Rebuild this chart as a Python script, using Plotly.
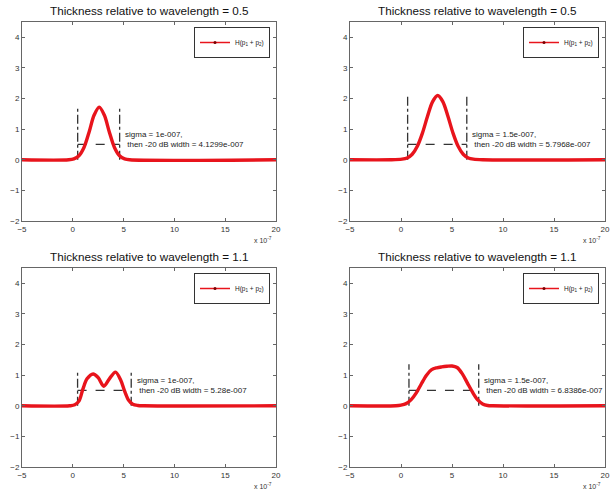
import plotly.graph_objects as go

# ---------------- data (x in units of 1e-7) ----------------
titles = ["Thickness relative to wavelength = 0.5", "Thickness relative to wavelength = 0.5",
          "Thickness relative to wavelength = 1.1", "Thickness relative to wavelength = 1.1"]

x_tl = [-5, -0.4, 0.1, 0.6, 1.1, 1.6, 2.1, 2.6, 3.1, 3.6, 4.1, 4.6, 5.1, 5.6, 20]
y_tl = [0, 0, 0.03, 0.13, 0.40, 0.90, 1.46, 1.72, 1.46, 0.90, 0.40, 0.13, 0.03, 0, 0]

x_tr = [-5, -1.0, 0.1, 0.6, 1.1, 1.6, 2.1, 2.6, 3.1, 3.6, 4.1, 4.6, 5.1, 5.6, 6.1, 6.6, 7.1, 8.0, 20]
y_tr = [0, 0, 0.02, 0.06, 0.18, 0.44, 0.87, 1.42, 1.90, 2.10, 1.90, 1.42, 0.87, 0.44, 0.18, 0.06, 0.02, 0, 0]

x_bl = [-5, -0.3, 0.2, 0.6, 1.0, 1.4, 2.0, 2.5, 3.05, 3.6, 4.2, 4.7, 5.1, 5.5, 5.9, 6.4, 7.0, 20]
y_bl = [0, 0, 0.03, 0.15, 0.55, 0.88, 1.04, 0.92, 0.64, 0.88, 1.10, 0.85, 0.48, 0.18, 0.05, 0.01, 0, 0]

x_br = [-5, -0.5, 0.0, 0.5, 1.0, 1.5, 2.0, 2.5, 3.0, 3.5, 4.0, 4.5, 5.0, 5.5, 6.0, 6.5, 7.0, 7.5, 8.0, 8.5, 9.0, 20]
y_br = [0, 0, 0.02, 0.07, 0.20, 0.42, 0.72, 1.00, 1.18, 1.24, 1.27, 1.29, 1.30, 1.25, 1.05, 0.75, 0.45, 0.20, 0.06, 0.01, 0, 0]

curves_x = [x_tl, x_tr, x_bl, x_br]
curves_y = [y_tl, y_tr, y_bl, y_br]

# -20 dB width markers
left_edge = [0.48, 0.65, 0.47, 0.78]
right_edge = [4.61, 6.45, 5.75, 7.62]
marker_height = [1.72, 2.10, 1.12, 1.36]
half_level = [0.5, 0.5, 0.5, 0.5]

sigma_txt = ["1e-007", "1.5e-007", "1e-007", "1.5e-007"]
width_txt = ["4.1299e-007", "5.7968e-007", "5.28e-007", "6.8386e-007"]

x_ticks = [-5, 0, 5, 10, 15, 20]
y_ticks = [-2, -1, 0, 1, 2, 3, 4]
x_range = [-5, 20]
y_range = [-2, 4.5]

legend_label = "H(p<sub>1</sub> + p<sub>2</sub>)"

# ---------------- layout geometry ----------------
W, H = 613, 495
FONT = "Liberation Sans, Arial, sans-serif"
px_x = [(22, 276), (350, 605), (22, 276), (350, 605)]
px_y = [(22, 221), (22, 221), (268, 467), (268, 467)]

fig = go.Figure()
layout = dict(width=W, height=H, margin=dict(l=0, r=0, t=0, b=0, autoexpand=False),
              template="none",
              paper_bgcolor="white", plot_bgcolor="white", showlegend=True,
              font=dict(family=FONT, size=8, color="#222"))
annotations = []

for i in range(4):
    n = "" if i == 0 else str(i + 1)
    xa, ya = "x" + n, "y" + n
    lg = "legend" + n
    x0p, x1p = px_x[i]
    y0p, y1p = px_y[i]
    dom_x = [x0p / W, x1p / W]
    dom_y = [1 - y1p / H, 1 - y0p / H]
    ax_common = dict(showline=True, mirror="ticks", linecolor="#666", linewidth=1,
                     ticks="inside", ticklen=3, tickcolor="#666", showgrid=False,
                     zeroline=False, automargin=False,
                     tickfont=dict(size=8, color="#333", family=FONT))
    layout["xaxis" + n] = dict(domain=dom_x, anchor=ya, range=x_range, tickvals=x_ticks,
                               **ax_common)
    layout["yaxis" + n] = dict(domain=dom_y, anchor=xa, range=y_range, tickvals=y_ticks,
                               **ax_common)

    # dashed width markers
    le, re, h, hl = left_edge[i], right_edge[i], marker_height[i], half_level[i]
    for xe in (le, re):
        fig.add_trace(go.Scatter(x=[xe, xe], y=[0, h], mode="lines", xaxis=xa, yaxis=ya,
                                 line=dict(color="#333", width=1.3, dash="dashdot"),
                                 showlegend=False, hoverinfo="skip"))
    fig.add_trace(go.Scatter(x=[le, re], y=[hl, hl], mode="lines", xaxis=xa, yaxis=ya,
                             line=dict(color="#333", width=1.3, dash="dash"),
                             showlegend=False, hoverinfo="skip"))

    # main curve
    fig.add_trace(go.Scatter(x=curves_x[i], y=curves_y[i], mode="lines", xaxis=xa, yaxis=ya,
                             line=dict(color="#e8141c", width=3.4, shape="spline", smoothing=0.9),
                             showlegend=False))
    # legend entry
    fig.add_trace(go.Scatter(x=[None], y=[None], mode="lines+markers", xaxis=xa, yaxis=ya,
                             name=legend_label, legend=lg,
                             line=dict(color="#e8141c", width=1.5),
                             marker=dict(color="#7a0000", size=3)))
    layout[lg] = dict(x=(x1p - 6) / W, y=1 - (y0p + 5) / H, xanchor="right", yanchor="top",
                      bgcolor="white", bordercolor="#333", borderwidth=1,
                      font=dict(size=6.5, family=FONT, color="#222"), itemwidth=30,
                      tracegroupgap=0)

    # text annotation
    annotations.append(dict(x=re + 0.35, y=0.66, xref=xa, yref=ya, xanchor="left",
                            yanchor="middle", align="left", showarrow=False,
                            text="sigma = " + sigma_txt[i] + ",<br>\u00a0then -20 dB width = " + width_txt[i],
                            font=dict(size=8, family=FONT, color="#222")))
    # title
    annotations.append(dict(x=(x0p + x1p) / 2 / W, y=1 - (y0p - 12) / H, xref="paper", yref="paper",
                            xanchor="center", yanchor="middle", showarrow=False,
                            text=titles[i], font=dict(size=11.7, family=FONT, color="#111")))
    # exponent label
    annotations.append(dict(x=(x1p - 2) / W, y=1 - (y1p + 19) / H, xref="paper", yref="paper",
                            xanchor="right", yanchor="middle", showarrow=False,
                            text="x 10<sup>-7</sup>", font=dict(size=7, family=FONT, color="#333")))

layout["annotations"] = annotations
fig.update_layout(**layout)
fig.write_html("out.html", config={"displayModeBar": False},
               post_script="document.body.style.margin='0';document.body.style.overflow='hidden';")
